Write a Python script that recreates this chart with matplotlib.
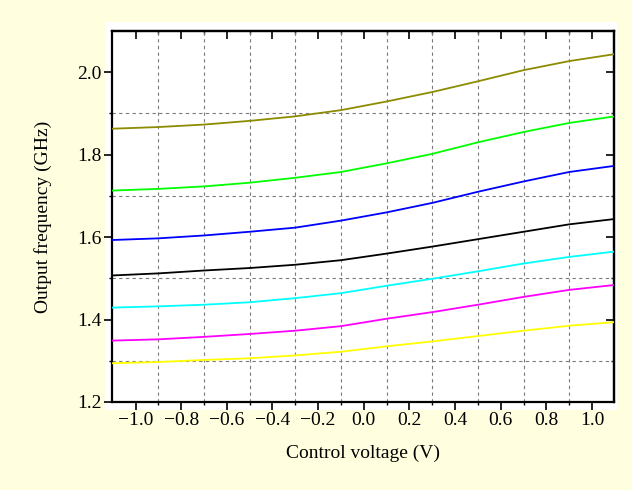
import matplotlib
matplotlib.use("Agg")
import matplotlib.pyplot as plt
from matplotlib.patches import Rectangle
from matplotlib.ticker import MultipleLocator, FuncFormatter, FixedLocator

# Data
voltage = [-1.1, -0.9, -0.7, -0.5, -0.3, -0.1, 0.1, 0.3, 0.5, 0.7, 0.9, 1.1]
olive   = [1.863, 1.867, 1.873, 1.882, 1.893, 1.908, 1.929, 1.952, 1.978, 2.005, 2.027, 2.044]
green   = [1.713, 1.717, 1.723, 1.732, 1.744, 1.758, 1.779, 1.802, 1.830, 1.855, 1.877, 1.893]
blue    = [1.593, 1.597, 1.604, 1.613, 1.623, 1.640, 1.660, 1.683, 1.710, 1.735, 1.758, 1.773]
black   = [1.507, 1.512, 1.519, 1.525, 1.533, 1.544, 1.560, 1.577, 1.595, 1.613, 1.631, 1.644]
cyan    = [1.429, 1.432, 1.436, 1.442, 1.452, 1.464, 1.482, 1.499, 1.517, 1.536, 1.552, 1.565]
magenta = [1.349, 1.352, 1.358, 1.365, 1.373, 1.384, 1.402, 1.418, 1.436, 1.455, 1.472, 1.484]
yellow  = [1.294, 1.297, 1.302, 1.306, 1.313, 1.322, 1.335, 1.347, 1.360, 1.373, 1.385, 1.394]

x_minor = [-0.9, -0.7, -0.5, -0.3, -0.1, 0.1, 0.3, 0.5, 0.7, 0.9]
y_minor = [1.3, 1.5, 1.7, 1.9]

series = [
    (olive, "#8c8c00"),
    (green, "#00ff00"),
    (blue, "#0000ff"),
    (black, "#000000"),
    (cyan, "#00ffff"),
    (magenta, "#ff00ff"),
    (yellow, "#ffff00"),
]

plt.rcParams['font.family'] = ['Liberation Serif', 'DejaVu Serif']
plt.rcParams['axes.unicode_minus'] = True

W, H = 632, 490
fig = plt.figure(figsize=(W / 100, H / 100), dpi=100, facecolor="#ffffe0")

# white plot panel
panel = Rectangle((105 / W, 1 - 410 / H), (617 - 105) / W, (410 - 22) / H,
                  transform=fig.transFigure, facecolor="white",
                  edgecolor="none", zorder=-10)
fig.add_artist(panel)

l, r, t, b = 112, 614, 31, 402
ax = fig.add_axes([l / W, 1 - b / H, (r - l) / W, (b - t) / H], zorder=1)
ax.set_facecolor("white")

for vals, c in series:
    ax.plot(voltage, vals, color=c, lw=1.3, zorder=3)

ax.set_xlim(-1.103, 1.096)
ax.set_ylim(1.2, 2.1)

ax.xaxis.set_major_locator(MultipleLocator(0.2))
ax.xaxis.set_minor_locator(FixedLocator(x_minor))
ax.yaxis.set_major_locator(MultipleLocator(0.2))
ax.yaxis.set_minor_locator(FixedLocator(y_minor))

fmt = FuncFormatter(lambda v, p: ("%.1f" % v).replace("-", "\u2212") if abs(v) > 1e-9 else "0.0")
ax.xaxis.set_major_formatter(fmt)
ax.yaxis.set_major_formatter(fmt)

ax.grid(which="minor", color="#7a7a7a", linestyle=(0, (3, 3)), linewidth=0.8)
ax.grid(which="major", visible=False)

ax.tick_params(which="major", direction="out", length=5.5, width=1.2, labelsize=14,
               pad=2, top=False, right=False, colors="black")
ax.tick_params(which="minor", direction="out", length=2.5, width=1.0, top=False, right=False)

for s in ax.spines.values():
    s.set_linewidth(1.6)

# top and right inward ticks
axt = ax.secondary_xaxis('top')
axt.xaxis.set_major_locator(MultipleLocator(0.2))
axt.xaxis.set_minor_locator(FixedLocator(x_minor))
axt.tick_params(which="major", direction="in", length=5.5, width=1.2, labeltop=False)
axt.tick_params(which="minor", direction="in", length=2.5, width=1.0)
axt.spines['top'].set_linewidth(1.6)

axr = ax.secondary_yaxis('right')
axr.yaxis.set_major_locator(MultipleLocator(0.2))
axr.yaxis.set_minor_locator(FixedLocator(y_minor))
axr.tick_params(which="major", direction="in", length=5.5, width=1.2, labelright=False)
axr.tick_params(which="minor", direction="in", length=2.5, width=1.0)
axr.spines['right'].set_linewidth(1.6)

ax.set_xlabel("Control voltage (V)", fontsize=14, labelpad=11)
ax.set_ylabel("Output frequency (GHz)", fontsize=14, labelpad=18)

fig.savefig("out.png", dpi=100, facecolor=fig.get_facecolor())
